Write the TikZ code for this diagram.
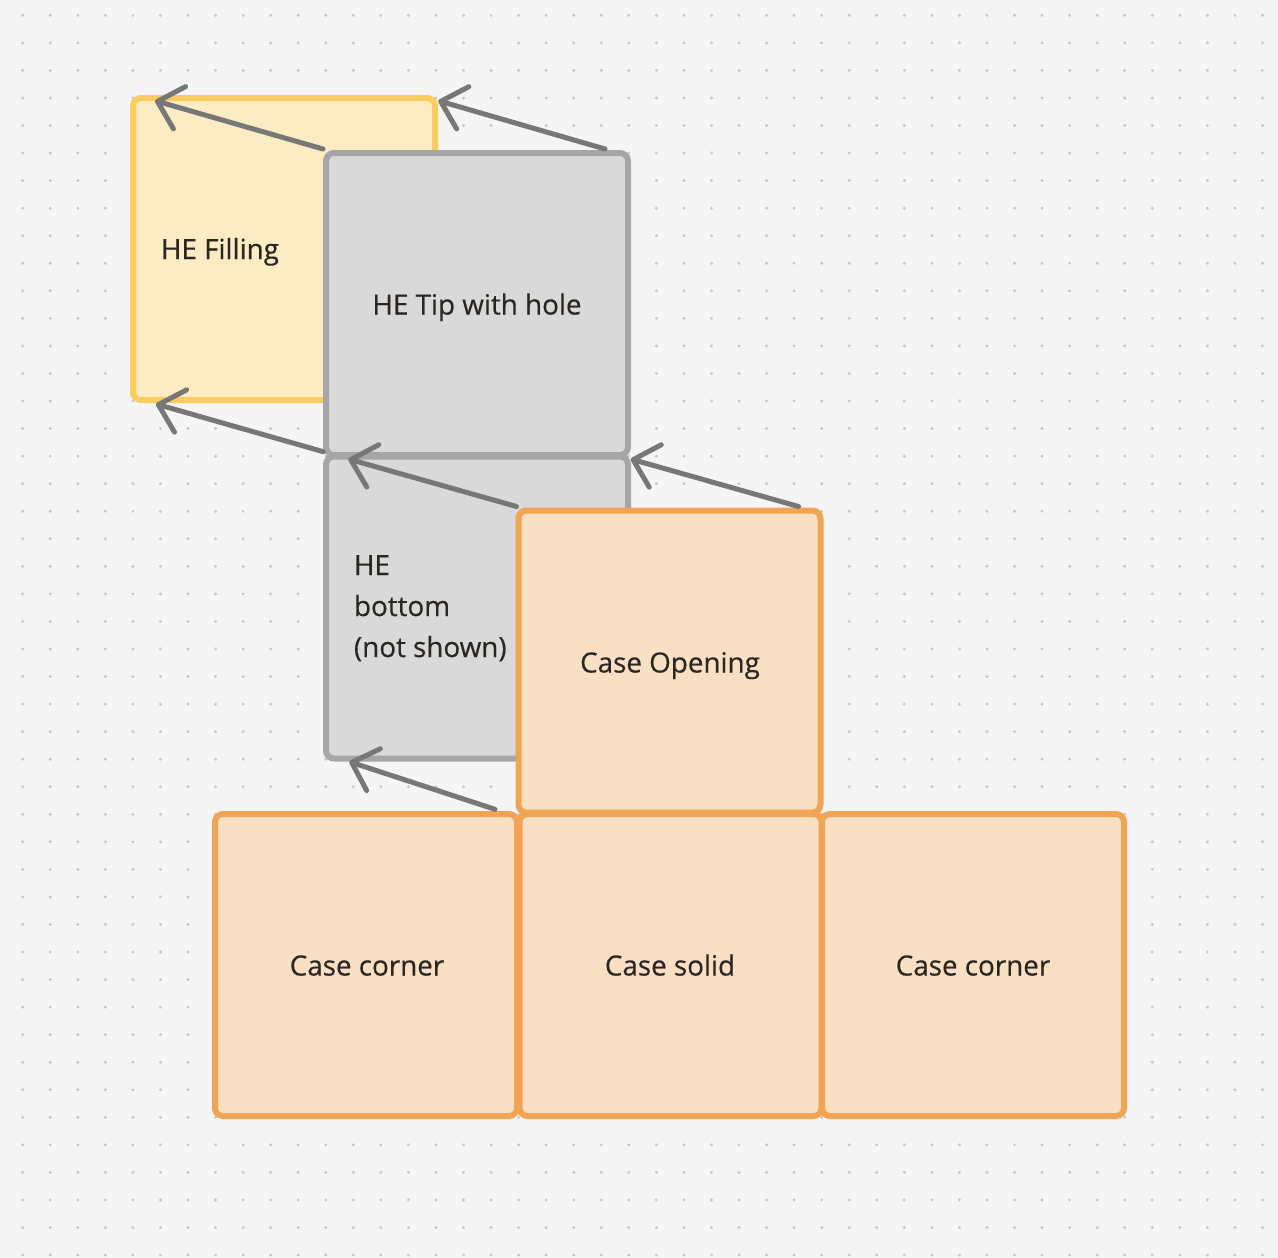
\documentclass[tikz,border=0pt]{standalone}
\usepackage{fontspec}
\setmainfont{Open Sans}[FakeBold=0.4]
\usetikzlibrary{arrows.meta,calc}
\definecolor{bgc}{HTML}{F5F5F5}
\definecolor{dotc}{HTML}{C6C6C6}
\definecolor{yelfill}{HTML}{FCECC4}
\definecolor{yeldraw}{HTML}{F9CD5F}
\definecolor{grayfill}{HTML}{D9D9D9}
\definecolor{graydraw}{HTML}{A6A6A6}
\definecolor{orfill}{HTML}{F9E0C5}
\definecolor{ordraw}{HTML}{F2A455}
\definecolor{arrowc}{HTML}{777777}
\definecolor{textc}{HTML}{2A2621}
\begin{document}
\begin{tikzpicture}[x=1pt,y=-1pt,
  box/.style={line width=6pt, rounded corners=8pt, minimum width=302pt, minimum height=302pt, outer sep=0pt, inner sep=0pt, anchor=north west},
  yelbox/.style={box, draw=yeldraw, fill=yelfill},
  graybox/.style={box, draw=graydraw, fill=grayfill},
  orbox/.style={box, draw=ordraw, fill=orfill},
  lbl/.style={text=textc, font=\fontsize{27.8}{41}\selectfont, inner sep=0pt, outer sep=0pt},
  arr/.style={draw=arrowc, line width=5pt, line cap=round, -{Straight Barb[length=23pt,width=44pt,line join=round,line cap=round]}}]
\useasboundingbox (0,0) rectangle (1278,1258);
\fill[bgc] (0,0) rectangle (1278,1258);
\foreach \i in {0,...,45}{
  \foreach \j in {0,...,45}{
    \fill[dotc] (22.7+27.55*\i, 15.3+27.55*\j) circle (1.6pt);
  }
}
% boxes
\node[yelbox] (fill) at (133,98) {};
\node[lbl, anchor=base west] (fillt) at (161,259) {HE Filling};
\node[graybox] (tip) at (326,153) {};
\node[lbl, anchor=base] (tipt) at (477,314.5) {HE Tip with hole};
\node[graybox] (bot) at (326,456.5) {};
\node[lbl, anchor=base west] (bott1) at (354,575) {HE};
\node[lbl, anchor=base west] (bott2) at (354,616) {bottom};
\node[lbl, anchor=base west] (bott3) at (354,657) {(not shown)};
\node[orbox] (open) at (518.5,510.5) {};
\node[lbl, anchor=base] (opent) at (670,672.5) {Case Opening};
\node[orbox] (cl) at (215,814) {};
\node[orbox] (cs) at (519.5,814) {};
\node[orbox] (cr) at (822,814) {};
\node[lbl, anchor=base] (clt) at (367,975.5) {Case corner};
\node[lbl, anchor=base] (cst) at (670,975.5) {Case solid};
\node[lbl, anchor=base] (crt) at (973,975.5) {Case corner};
% arrows
\draw[arr] ($(tip.north west)+(-3,-4)$) -- ($(fill.north west)+(22,2.7)$);
\draw[arr] ($(tip.north east)+(-23,-4)$) -- ($(fill.north east)+(3.3,2.7)$);
\draw[arr] ($(tip.south west)+(-2.7,-3.3)$) -- ($(fill.south west)+(23,4)$);
\draw[arr] ($(open.north west)+(-2,-4)$) -- ($(bot.north west)+(22.3,2.5)$);
\draw[arr] ($(open.north east)+(-22,-4)$) -- ($(bot.north east)+(2.7,2.5)$);
\draw[arr] ($(cl.north east)+(-22,-4.7)$) -- ($(bot.south west)+(23.3,3.2)$);
\end{tikzpicture}
\end{document}
